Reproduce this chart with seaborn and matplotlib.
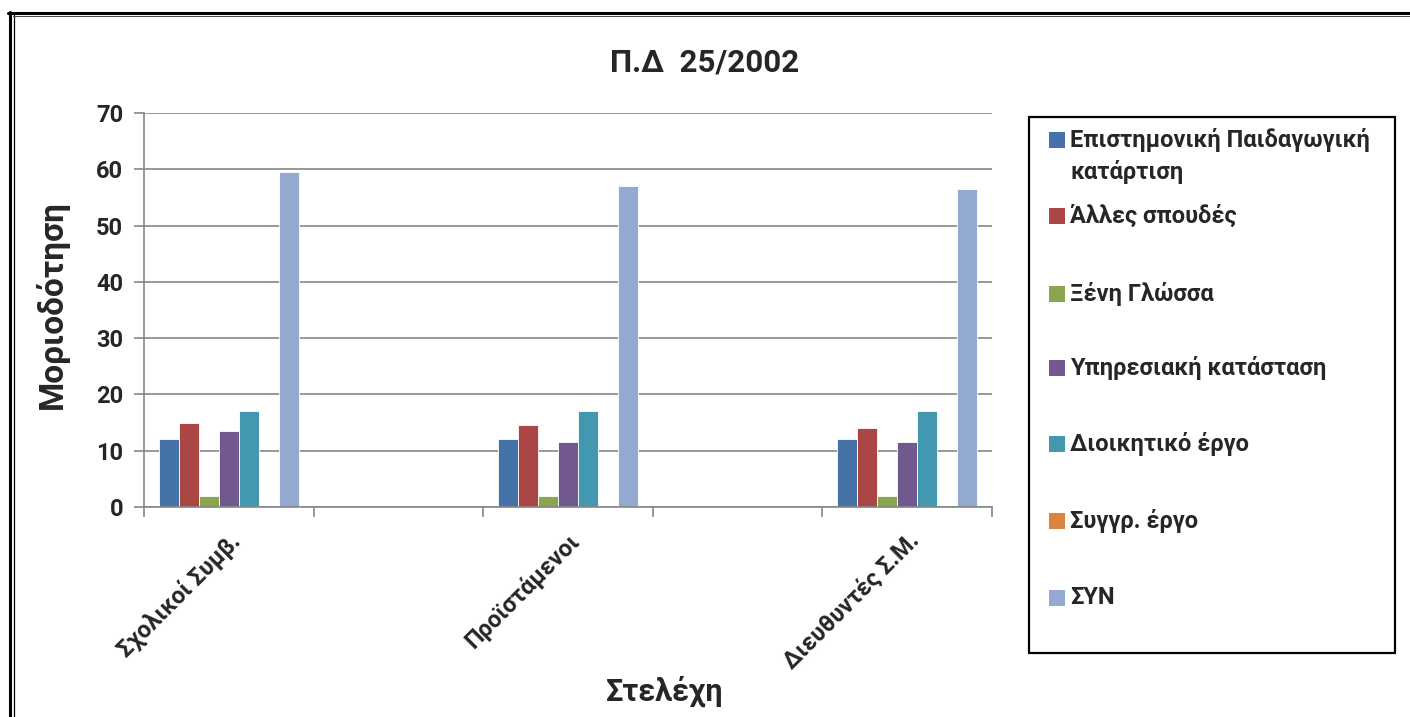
import numpy as np
import pandas as pd
import seaborn as sns
import matplotlib.pyplot as plt
from matplotlib.lines import Line2D
from matplotlib.patches import Rectangle

# ---- data ----
categories = ["Σχολικοί Συμβ.", "Προϊστάμενοι", "Διευθυντές Σ.Μ."]
series_names = [
    "Επιστημονική Παιδαγωγική\nκατάρτιση",
    "Άλλες σπουδές",
    "Ξένη Γλώσσα",
    "Υπηρεσιακή κατάσταση",
    "Διοικητικό έργο",
    "Συγγρ. έργο",
    "ΣΥΝ",
]
epistimoniki = [12, 12, 12]
alles_spoudes = [15, 14.5, 14]
xeni_glossa = [2, 2, 2]
ypiresiaki = [13.5, 11.5, 11.5]
dioikitiko = [17, 17, 17]
syggrafiko = [0, 0, 0]
synolo = [59.5, 57, 56.5]
y_ticks = [0, 10, 20, 30, 40, 50, 60, 70]

colors = ["#4572A7", "#AA4643", "#89A54E", "#71588F", "#4198AF", "#DB843D", "#93A9CF"]

series_values = [epistimoniki, alles_spoudes, xeni_glossa, ypiresiaki,
                 dioikitiko, syggrafiko, synolo]
rows = []
for name, vals in zip(series_names, series_values):
    for cat, v in zip(categories, vals):
        rows.append({"Στελέχη": cat, "Σειρά": name, "Τιμή": v})
df = pd.DataFrame(rows)

# empty slots between the three groups
order = [categories[0], " ", categories[1], "  ", categories[2]]

sns.set_theme(style="white")
FONT = ["Roboto", "DejaVu Sans"]
plt.rcParams["font.family"] = FONT
plt.rcParams["font.weight"] = "bold"

W, H = 1410, 717
fig = plt.figure(figsize=(W / 100, H / 100), dpi=100)
fig.patch.set_facecolor("white")


def fx(x):
    return x / W


def fy(y):
    return 1 - y / H


ax = fig.add_axes([fx(144), fy(507), fx(992) - fx(144), fy(113) - fy(507)])

sns.barplot(data=df, x="Στελέχη", y="Τιμή", hue="Σειρά", order=order,
            hue_order=series_names, palette=dict(zip(series_names, colors)),
            saturation=1, width=0.825, edgecolor="white", linewidth=0.6,
            legend=False, errorbar=None, ax=ax)

grey = "#868686"
ax.set_ylim(0, 70)
ax.set_xlim(-0.5, 4.5)
ax.set_yticks(y_ticks)
ax.set_yticklabels([str(t) for t in y_ticks], fontsize=17, fontweight="bold")
ax.yaxis.grid(True, color=grey, linewidth=1.2)
ax.set_axisbelow(True)
ax.tick_params(axis="y", length=7, width=1.2, color=grey, direction="out", pad=8, left=True)

ax.set_xticks(range(len(order)))
ax.set_xticklabels(order, rotation=45, ha="right", rotation_mode="anchor",
                   fontsize=17, fontweight="bold")
ax.tick_params(axis="x", which="major", length=0, pad=16)
ax.set_xticks(np.arange(-0.5, 5.0, 1.0), minor=True)
ax.tick_params(axis="x", which="minor", length=7, width=1.2, color=grey, direction="out", bottom=True)

for side in ["top", "right"]:
    ax.spines[side].set_visible(False)
for side in ["left", "bottom"]:
    ax.spines[side].set_color(grey)
    ax.spines[side].set_linewidth(1.2)

ax.set_xlabel("")
ax.set_ylabel("")

fig.text(fx(705), fy(63), "Π.Δ  25/2002", ha="center", va="center",
         fontsize=22.5, fontweight="bold")
fig.text(fx(52), fy(305), "Μοριοδότηση", ha="center", va="center",
         rotation=90, fontsize=24, fontweight="bold")
fig.text(fx(665), fy(691), "Στελέχη", ha="center", va="center",
         fontsize=22, fontweight="bold")

# legend box
fig.add_artist(Rectangle((fx(1029), fy(653)), fx(1395) - fx(1029), fy(117) - fy(653),
                         transform=fig.transFigure, fill=False, edgecolor="black",
                         linewidth=1.6))
entry_y = [156, 216, 294, 368, 444, 521, 598]
for i, (name, col, yc) in enumerate(zip(series_names, colors, entry_y)):
    sq_y = 140 if i == 0 else yc
    fig.add_artist(Rectangle((fx(1049), fy(sq_y + 8)), fx(16), 16 / H,
                             transform=fig.transFigure, facecolor=col, edgecolor="none"))
    fig.text(fx(1070), fy(yc), name, ha="left", va="center", fontsize=17,
             fontweight="bold", linespacing=1.4)

# outer double frame
frame = dict(transform=fig.transFigure, color="black")
fig.add_artist(Line2D([fx(8), fx(1410)], [fy(13), fy(13)], linewidth=2.2, **frame))
fig.add_artist(Line2D([fx(9.5), fx(9.5)], [fy(12), fy(717)], linewidth=2.2, **frame))
fig.add_artist(Line2D([fx(13.5), fx(13.5)], [fy(15), fy(717)], linewidth=0.9, **frame))
fig.add_artist(Line2D([fx(13), fx(1410)], [fy(15.5), fy(15.5)], linewidth=0.7,
                      transform=fig.transFigure, color="#444444"))

fig.savefig("out.png", dpi=100, facecolor="white")
